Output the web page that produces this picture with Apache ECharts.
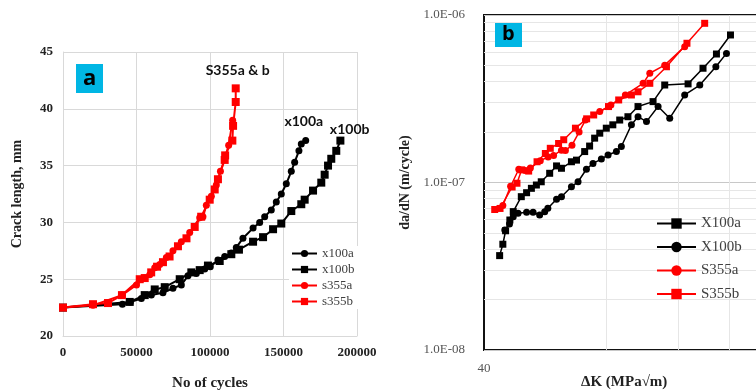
<!DOCTYPE html>
<html>
  <head>
    <meta charset="utf-8" />
    <title>Crack growth</title>
    <script src="https://cdn.jsdelivr.net/npm/echarts@6/dist/echarts.min.js"></script>
    <style>
      * {
        margin: 0;
        padding: 0;
        box-sizing: border-box;
      }
      body {
        background: #fff;
      }
    </style>
  </head>
  <body>
    <div id="main" style="width: 756px; height: 392px"></div>
    <script type="text/javascript">
      var myChart = echarts.init(document.getElementById("main"));

      // (a) crack length vs cycles  [cycles, mm]
      const x100a = [
        [0, 22.5], [40400, 22.8], [45800, 23.0], [53300, 23.3], [60100, 23.6],
        [68000, 23.8], [74800, 24.2], [80500, 24.5], [85000, 25.3], [90700, 25.5],
        [96400, 25.9], [100200, 26.1], [105400, 26.7], [110000, 27.0], [114500, 27.3],
        [117900, 27.8], [122400, 28.6], [129300, 29.5], [133800, 30.0], [137200, 30.5],
        [141700, 31.1], [145100, 31.8], [148500, 32.5], [151900, 33.4], [155300, 34.5],
        [157600, 35.3], [160500, 36.3], [162100, 36.9], [165100, 37.2],
      ];
      const x100b = [
        [0, 22.5], [45400, 23.0], [55600, 23.6], [62400, 24.1], [69200, 24.3],
        [79400, 25.0], [87300, 25.6], [93000, 25.8], [98600, 26.2], [106600, 26.6],
        [114500, 27.2], [119700, 27.6], [129300, 28.3], [136100, 28.7], [142900, 29.4],
        [148500, 29.9], [155300, 31.0], [162100, 31.6], [164400, 32.0], [170100, 32.8],
        [175700, 33.5], [178000, 34.2], [180300, 35.0], [182500, 35.6], [185900, 36.3],
        [188700, 37.2],
      ];
      const s355a = [
        [0, 22.5], [20400, 22.7], [40100, 23.6], [50000, 24.5], [55600, 25.1],
        [59000, 25.4], [62400, 26.0], [65800, 26.3], [70300, 26.9], [74800, 27.5],
        [80500, 28.3], [86200, 29.1], [93000, 30.4], [95200, 30.5], [97500, 31.5],
        [100900, 32.3], [104300, 33.3], [107100, 34.5], [110000, 35.6], [112700, 36.8],
        [115400, 39.0],
      ];
      const s355b = [
        [0, 22.5], [20400, 22.8], [30600, 22.9], [40100, 23.6], [52200, 25.0],
        [55600, 25.1], [60000, 25.6], [64000, 26.1], [68000, 26.5], [72500, 27.0],
        [78200, 27.9], [84000, 28.6], [89600, 29.6], [94000, 30.5], [99800, 32.0],
        [103200, 32.9], [105400, 33.8], [110000, 35.5], [110300, 35.9], [115200, 37.2],
        [115700, 38.5], [117500, 40.6], [117500, 41.8],
      ];

      // (b) da/dN vs dK  [MPa√m, m/cycle]
      const X100a = [
        [43.7, 3.66e-8], [44.5, 4.28e-8], [45.2, 5.15e-8], [46.3, 5.97e-8], [47.2, 6.7e-8],
        [49.4, 8.23e-8], [50.9, 8.69e-8], [52.3, 9.23e-8], [53.8, 9.66e-8], [55.3, 1.01e-7],
        [58.0, 1.135e-7], [60.3, 1.256e-7], [62.0, 1.216e-7], [65.6, 1.33e-7], [67.5, 1.36e-7],
        [70.7, 1.53e-7], [72.7, 1.65e-7], [74.8, 1.84e-7], [77.0, 1.97e-7], [79.9, 2.11e-7],
        [82.9, 2.21e-7], [86.2, 2.36e-7], [90.3, 2.47e-7], [95.6, 2.84e-7], [104.1, 3.04e-7],
        [111.2, 3.82e-7], [126.9, 3.88e-7], [138.1, 4.81e-7], [149.0, 5.85e-7], [161.3, 7.6e-7],
      ];
      const X100b = [
        [45.0, 5.2e-8], [46.2, 5.65e-8], [47.2, 6.25e-8], [48.5, 6.55e-8], [50.9, 6.64e-8],
        [52.8, 6.64e-8], [54.8, 6.4e-8], [56.4, 6.7e-8], [57.4, 7.02e-8], [60.3, 7.94e-8],
        [62.0, 8.23e-8], [65.6, 9.44e-8], [68.1, 1.01e-7], [71.4, 1.2e-7], [74.1, 1.3e-7],
        [77.7, 1.38e-7], [80.7, 1.46e-7], [84.6, 1.53e-7], [87.0, 1.64e-7], [92.1, 2.21e-7],
        [95.6, 2.47e-7], [100.3, 2.31e-7], [107.1, 2.84e-7], [114.4, 2.42e-7], [124.5, 3.33e-7],
        [135.6, 3.82e-7], [148.5, 4.91e-7], [157.7, 5.9e-7],
      ];
      const S355a = [
        [44.5, 7.3e-8], [46.5, 9.5e-8], [48.7, 1.2e-7], [50.5, 1.18e-7], [52.0, 1.22e-7],
        [55.0, 1.35e-7], [57.5, 1.42e-7], [59.3, 1.45e-7], [62.0, 1.56e-7], [63.4, 1.55e-7],
        [65.8, 1.67e-7], [68.5, 2.0e-7], [71.0, 2.36e-7], [77.0, 2.65e-7], [82.0, 2.9e-7],
        [89.0, 3.33e-7], [98.4, 3.91e-7], [102.2, 4.49e-7], [111.2, 5.02e-7], [124.5, 6.47e-7],
      ];
      const S355b = [
        [42.5, 6.9e-8], [43.8, 7.0e-8], [46.9, 9.4e-8], [48.2, 9.9e-8], [49.5, 1.19e-7],
        [51.5, 1.17e-7], [54.0, 1.33e-7], [56.6, 1.49e-7], [58.2, 1.6e-7], [61.0, 1.71e-7],
        [62.8, 1.8e-7], [67.1, 2.11e-7], [71.5, 2.4e-7], [74.4, 2.53e-7], [80.9, 2.84e-7],
        [85.7, 3.11e-7], [92.1, 3.33e-7], [95.6, 3.48e-7], [102.2, 3.91e-7], [112.3, 4.91e-7],
        [126.1, 6.78e-7], [139.4, 8.92e-7],
      ];

      // minor log gridlines (Excel style)
      const minorY = [2e-8, 3e-8, 4e-8, 5e-8, 6e-8, 7e-8, 8e-8, 9e-8,
        2e-7, 3e-7, 4e-7, 5e-7, 6e-7, 7e-7, 8e-7, 9e-7];
      const minorX = [80, 120, 160, 200, 240, 280, 320, 360];

      const serif = "Liberation Serif";
      const grey = "#404040";

      function lineSeries(name, data, symbol, color, idx, size, width) {
        return {
          name: name,
          type: "line",
          xAxisIndex: idx,
          yAxisIndex: idx,
          data: data,
          symbol: symbol === "square" ? "rect" : "circle",
          symbolSize: size,
          showAllSymbol: true,
          lineStyle: { color: color, width: width },
          itemStyle: { color: color },
          emphasis: { disabled: true },
          z: 3,
        };
      }

      function note(text, coord) {
        return {
          silent: true,
          symbol: "circle",
          symbolSize: 1,
          itemStyle: { color: "transparent" },
          label: {
            show: true,
            position: "inside",
            formatter: text,
            color: "#111",
            fontFamily: "Lato",
            fontWeight: "bold",
            fontSize: 14,
          },
          data: [{ coord: coord }],
        };
      }

      function expLabel(v) {
        var e = Math.round(Math.log10(v));
        var s = Math.abs(e) < 10 ? "0" + Math.abs(e) : "" + Math.abs(e);
        return "1.0E" + (e < 0 ? "-" : "+") + s;
      }

      // gridline segments given in data units, so the log axes place them
      const gridSegments = minorY
        .map((v) => [{ coord: [40.01, v] }, { coord: [399, v] }])
        .concat(minorX.map((v) => [{ coord: [v, 1.001e-8] }, { coord: [v, 0.999e-6] }]));

      var option = {
        animation: false,
        grid: [
          { left: 63, top: 52, width: 294, height: 284, outerBoundsMode: "none" },
          {
            left: 484, top: 15, width: 407, height: 335,
            outerBoundsMode: "none",
            show: true, borderColor: "#111", borderWidth: 2,
          },
        ],
        legend: [
          {
            data: ["x100a", "x100b", "s355a", "s355b"],
            orient: "vertical",
            left: 289,
            top: 246,
            padding: [1, 4, 1, 2],
            backgroundColor: "#fff",
            itemWidth: 25,
            itemHeight: 9,
            itemGap: 3,
            textStyle: { fontFamily: serif, fontSize: 13, color: grey },
            selectedMode: false,
          },
          {
            data: ["X100a", "X100b", "S355a", "S355b"],
            orient: "vertical",
            left: 656,
            top: 216,
            padding: 0,
            itemWidth: 39,
            itemHeight: 13,
            itemGap: 8.5,
            textStyle: { fontFamily: serif, fontSize: 15, color: grey },
            selectedMode: false,
          },
        ],
        xAxis: [
          {
            type: "value",
            gridIndex: 0,
            min: 0,
            max: 200000,
            interval: 50000,
            name: "No of cycles",
            nameLocation: "middle",
            nameGap: 40,
            nameTextStyle: { fontFamily: serif, fontWeight: "bold", fontSize: 15, color: "#222" },
            axisLine: { show: true, lineStyle: { color: "#d9d9d9" } },
            axisTick: { show: false },
            axisLabel: {
              fontFamily: serif, fontWeight: "bold", fontSize: 13, color: "#222", margin: 10,
              formatter: (v) => String(v),
            },
            splitLine: { show: true, lineStyle: { color: "#d9d9d9" } },
          },
          {
            type: "log",
            gridIndex: 1,
            logBase: 10,
            min: 40,
            max: 400,
            axisLine: { show: false },
            axisTick: { show: false },
            splitLine: { show: false },
            axisLabel: {
              showMinLabel: true,
              fontFamily: serif,
              fontSize: 13,
              color: "#555",
              margin: 12,
              formatter: function (v) {
                return Math.abs(v - 40) < 0.5 ? "40" : "";
              },
            },
          },
        ],
        yAxis: [
          {
            type: "value",
            gridIndex: 0,
            min: 20,
            max: 45,
            interval: 5,
            name: "Crack length, mm",
            nameLocation: "middle",
            nameGap: 39,
            nameTextStyle: { fontFamily: serif, fontWeight: "bold", fontSize: 14, color: "#222" },
            axisLine: { show: true, lineStyle: { color: "#d9d9d9" } },
            axisTick: { show: false },
            axisLabel: { fontFamily: serif, fontWeight: "bold", fontSize: 13, color: "#222", margin: 10 },
            splitLine: { show: true, lineStyle: { color: "#d9d9d9" } },
          },
          {
            type: "log",
            gridIndex: 1,
            logBase: 10,
            min: 1e-8,
            max: 1e-6,
            name: "da/dN (m/cycle)",
            nameLocation: "middle",
            nameGap: 64,
            nameTextStyle: { fontFamily: serif, fontWeight: "bold", fontSize: 14, color: "#222" },
            axisLine: { show: false },
            axisTick: { show: false },
            axisLabel: {
              fontFamily: serif,
              fontSize: 13,
              color: "#555",
              margin: 19,
              formatter: expLabel,
            },
            splitLine: { show: true, lineStyle: { color: "#c8c8c8" } },
          },
        ],
        graphic: [
          {
            type: "rect", left: 76, top: 64, z: 100,
            shape: { width: 27, height: 29 }, style: { fill: "#00b6e4" },
          },
          {
            type: "text", left: 83, top: 68, z: 101,
            style: { text: "a", fill: "#000", font: "bold 22px 'Open Sans'" },
          },
          {
            type: "rect", left: 495, top: 23, z: 100,
            shape: { width: 27, height: 24 }, style: { fill: "#00b6e4" },
          },
          {
            type: "text", left: 502, top: 24, z: 101,
            style: { text: "b", fill: "#000", font: "bold 20px 'Open Sans'" },
          },
          {
            type: "text",
            left: 581,
            top: 375,
            style: { text: "ΔK (MPa√m)", fill: "#222", font: "bold 15px 'Liberation Serif'" },
          },
        ],
        series: [
          Object.assign(lineSeries("x100a", x100a, "circle", "#000", 0, 7, 2), {
            markPoint: note("x100a", [163800, 38.9]),
          }),
          Object.assign(lineSeries("x100b", x100b, "square", "#000", 0, 8, 2), {
            markPoint: note("x100b", [195000, 38.2]),
          }),
          Object.assign(lineSeries("s355a", s355a, "circle", "#f00", 0, 7, 2), {
            markPoint: note("S355a & b", [118800, 43.35]),
          }),
          lineSeries("s355b", s355b, "square", "#f00", 0, 8, 2),
          Object.assign(lineSeries("X100a", X100a, "square", "#000", 1, 7, 1.5), {
            markLine: {
              silent: true,
              symbol: "none",
              z: 1,
              animation: false,
              label: { show: false },
              emphasis: { disabled: true },
              lineStyle: { color: "#e6e6e6", type: "solid", width: 1 },
              data: gridSegments,
            },
          }),
          lineSeries("X100b", X100b, "circle", "#000", 1, 7, 1.5),
          lineSeries("S355a", S355a, "circle", "#f00", 1, 7, 1.5),
          lineSeries("S355b", S355b, "square", "#f00", 1, 7, 1.5),
        ],
      };

      myChart.setOption(option);

      window.addEventListener("resize", function () {
        myChart.resize();
      });
    </script>
  </body>
</html>
